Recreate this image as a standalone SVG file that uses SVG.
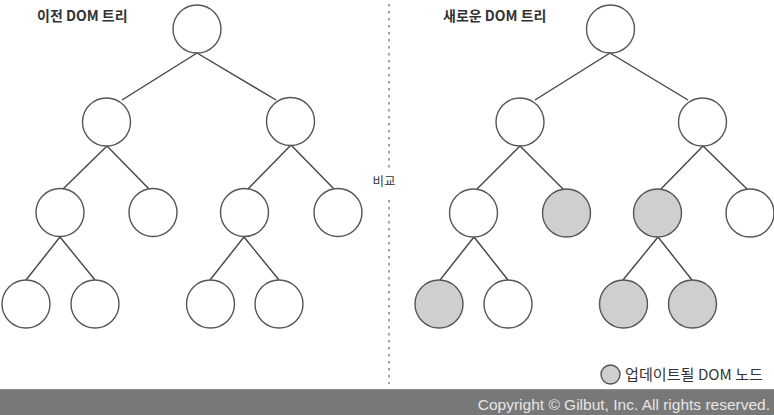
<svg xmlns="http://www.w3.org/2000/svg" width="774" height="415" viewBox="0 0 774 415">
<style>
.n{fill:#fff;stroke:#555;stroke-width:1.4}
.u{fill:#cfcfcf;stroke:#555;stroke-width:1.4}
.e{stroke:#444;stroke-width:1.4;fill:none}
.t{font-family:"Noto Sans CJK KR","Noto Sans",sans-serif;fill:#333}
</style>
<rect width="774" height="415" fill="#fff"/>
<g id="divider">
<line x1="389" y1="4" x2="389" y2="384" stroke="#666" stroke-width="1.2" stroke-dasharray="2.5 4.5"/>
<rect x="372" y="168" width="26" height="28" fill="#fff"/>
<text class="t" x="384" y="186" font-size="12.5" text-anchor="middle">비교</text>
</g>
<text class="t" x="37" y="21" font-size="14" font-weight="700">이전 DOM 트리</text>
<text class="t" x="443" y="21" font-size="14" font-weight="700">새로운 DOM 트리</text>
<g id="connectors">
<line class="e" x1="197" y1="53" x2="122" y2="100"/>
<line class="e" x1="197" y1="53" x2="276" y2="100"/>
<line class="e" x1="107" y1="146" x2="63" y2="189"/>
<line class="e" x1="107" y1="146" x2="149" y2="189"/>
<line class="e" x1="291" y1="145" x2="248" y2="189"/>
<line class="e" x1="291" y1="145" x2="334" y2="189"/>
<line class="e" x1="60" y1="237" x2="26" y2="280"/>
<line class="e" x1="60" y1="237" x2="95" y2="280"/>
<line class="e" x1="244" y1="237" x2="210" y2="280"/>
<line class="e" x1="244" y1="237" x2="279" y2="280"/>
<line class="e" x1="610" y1="53" x2="535" y2="100"/>
<line class="e" x1="610" y1="53" x2="688" y2="100"/>
<line class="e" x1="520" y1="146" x2="477" y2="189"/>
<line class="e" x1="520" y1="146" x2="563" y2="189"/>
<line class="e" x1="703" y1="146" x2="661" y2="189"/>
<line class="e" x1="703" y1="146" x2="747" y2="189"/>
<line class="e" x1="474" y1="237" x2="440" y2="280"/>
<line class="e" x1="474" y1="237" x2="508" y2="280"/>
<line class="e" x1="658" y1="237" x2="623" y2="280"/>
<line class="e" x1="658" y1="237" x2="692" y2="280"/>
</g>
<g id="old-root"><circle class="n" cx="197" cy="29" r="24"/></g>
<g id="old-l2a"><circle class="n" cx="106.5" cy="122" r="24"/></g>
<g id="old-l2b"><circle class="n" cx="290.5" cy="121.5" r="24"/></g>
<g id="old-l3a"><circle class="n" cx="60" cy="212.5" r="24"/></g>
<g id="old-l3b"><circle class="n" cx="153" cy="212.5" r="24"/></g>
<g id="old-l3c"><circle class="n" cx="244.5" cy="212.5" r="24"/></g>
<g id="old-l3d"><circle class="n" cx="338" cy="212.5" r="24"/></g>
<g id="old-l4a"><circle class="n" cx="26" cy="304" r="24"/></g>
<g id="old-l4b"><circle class="n" cx="95" cy="304" r="24"/></g>
<g id="old-l4c"><circle class="n" cx="210.5" cy="304" r="24"/></g>
<g id="old-l4d"><circle class="n" cx="279" cy="304" r="24"/></g>
<g id="new-root"><circle class="n" cx="610.5" cy="29" r="24"/></g>
<g id="new-l2a"><circle class="n" cx="520" cy="122" r="24"/></g>
<g id="new-l2b"><circle class="n" cx="702.5" cy="122" r="24"/></g>
<g id="new-l3a"><circle class="n" cx="473.5" cy="213" r="24"/></g>
<g id="new-l3b"><circle class="u" cx="566.5" cy="213" r="24"/></g>
<g id="new-l3c"><circle class="u" cx="657.5" cy="213" r="24"/></g>
<g id="new-l3d"><circle class="n" cx="750" cy="213" r="24"/></g>
<g id="new-l4a"><circle class="u" cx="439" cy="304" r="24"/></g>
<g id="new-l4b"><circle class="n" cx="508" cy="304" r="24"/></g>
<g id="new-l4c"><circle class="u" cx="623.5" cy="304" r="24"/></g>
<g id="new-l4d"><circle class="u" cx="692.5" cy="304" r="24"/></g>
<g id="legend">
<circle class="u" cx="610.5" cy="374.5" r="9.5"/>
<text class="t" x="625" y="380" font-size="14.5" textLength="138" lengthAdjust="spacingAndGlyphs">업데이트될 DOM 노드</text>
</g>
<g id="footer">
<rect x="0" y="389" width="774" height="26" fill="#787878"/>
<rect x="0" y="389" width="774" height="1.2" fill="#8a8a8a"/>
<text x="770" y="410" font-family="Liberation Sans, Arial, sans-serif" font-size="15.5" fill="#e6e6e6" text-anchor="end">Copyright © Gilbut, Inc. All rights reserved.</text>
</g>
</svg>
